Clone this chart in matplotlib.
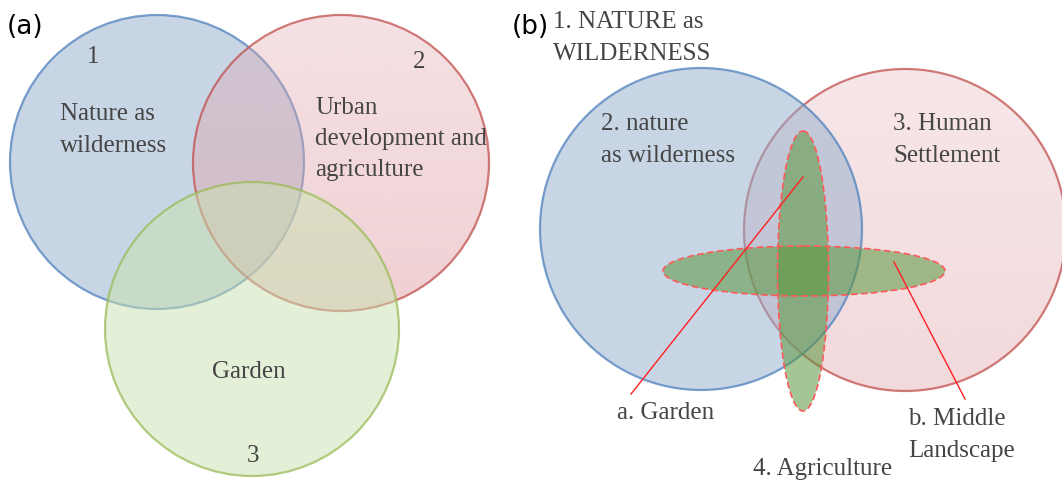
import numpy as np
import matplotlib.pyplot as plt
from matplotlib.patches import Circle, Ellipse
from matplotlib.colors import to_rgb

# Panel (a): three overlapping circles (pixel coordinates)
a_names = ["Nature as\nwilderness", "Urban\ndevelopment and\nagriculture", "Garden"]
a_nums = ["1", "2", "3"]
a_cx = [157, 341, 252]
a_cy = [163, 164, 330]
a_r = [147, 148, 147]

# Panel (b): two circles + two ellipses
b_names = ["2. nature\nas wilderness", "3. Human\nSettlement"]
b_cx = [701, 905]
b_cy = [230, 231]
b_r = [161, 161]

ell_names = ["a. Garden", "b. Middle\nLandscape"]
ell_cx = [803, 804]
ell_cy = [272, 272]
ell_w = [51, 282]
ell_h = [280, 50]

fig = plt.figure(figsize=(10.62, 4.81), dpi=100)
ax = fig.add_axes([0, 0, 1, 1])
ax.set_xlim(0, 1062)
ax.set_ylim(481, 0)
ax.axis("off")

serif = dict(family="Liberation Serif", color="#454545", fontsize=18)


def circle(cx, cy, r, face, edge, alpha, z, alpha_bottom=None):
    # filled circle, optional vertical gradient in alpha
    if alpha_bottom is None:
        ax.add_patch(Circle((cx, cy), r, facecolor=face, alpha=alpha,
                            edgecolor="none", zorder=z))
    else:
        clip = Circle((cx, cy), r, facecolor="none", edgecolor="none")
        ax.add_patch(clip)
        rgba = np.zeros((100, 2, 4))
        rgba[..., :3] = to_rgb(face)
        rgba[..., 3] = np.linspace(alpha, alpha_bottom, 100)[:, None]
        im = ax.imshow(rgba, extent=(cx - r, cx + r, cy + r, cy - r),
                       interpolation="bilinear", zorder=z, aspect="auto")
        im.set_clip_path(clip)
    ax.add_patch(Circle((cx, cy), r, facecolor="none", edgecolor=edge,
                        lw=1.6, alpha=0.75, zorder=z))


# (a) circles
circle(a_cx[0], a_cy[0], a_r[0], "#91adcd", "#4f81bd", 0.5, 1)
circle(a_cx[1], a_cy[1], a_r[1], "#e1a5ab", "#c0504d", 0.33, 2, 0.52)
circle(a_cx[2], a_cy[2], a_r[2], "#c9e1af", "#9bbb59", 0.5, 3)

# (b) circles: red below, blue on top
circle(b_cx[1], b_cy[1], b_r[1], "#e1a5ab", "#c0504d", 0.27, 1, 0.42)
circle(b_cx[0], b_cy[0], b_r[0], "#91adcd", "#4f81bd", 0.5, 2)

for i in range(2):
    ax.add_patch(Ellipse((ell_cx[i], ell_cy[i]), ell_w[i], ell_h[i],
                         facecolor="#5a963c", alpha=0.55, edgecolor="none", zorder=5))
    ax.add_patch(Ellipse((ell_cx[i], ell_cy[i]), ell_w[i], ell_h[i],
                         facecolor="none", edgecolor="#ff5a5a", lw=1.2,
                         ls=(0, (4, 2)), zorder=6))

# leader lines
ax.plot([803, 631], [178, 395], color="#ff2020", lw=1.0, zorder=7)
ax.plot([894, 965], [263, 400], color="#ff2020", lw=1.0, zorder=7)

# panel letters
ax.text(7, 27, "(a)", family="DejaVu Sans", fontsize=19, va="center", ha="left", zorder=10)
ax.text(512, 27, "(b)", family="DejaVu Sans", fontsize=19, va="center", ha="left", zorder=10)

# (a) labels
ax.text(93, 57, a_nums[0], ha="center", va="center", zorder=10, **serif)
ax.text(419, 62, a_nums[1], ha="center", va="center", zorder=10, **serif)
ax.text(253, 456, a_nums[2], ha="center", va="center", zorder=10, **serif)
ax.text(60, 130, a_names[0], ha="left", va="center",
        linespacing=1.55, zorder=10, **serif)
ax.text(315, 139, a_names[1], ha="left", va="center",
        linespacing=1.55, zorder=10, **serif)
ax.text(249, 372, a_names[2], ha="center", va="center", zorder=10, **serif)

# (b) labels
ax.text(553, 38, "1. NATURE as\nWILDERNESS", ha="left", va="center",
        linespacing=1.55, zorder=10, **serif)
ax.text(601, 140, b_names[0], ha="left", va="center",
        linespacing=1.55, zorder=10, **serif)
ax.text(893, 140, b_names[1], ha="left", va="center",
        linespacing=1.55, zorder=10, **serif)
ax.text(617, 413, ell_names[0], ha="left", va="center", zorder=10, **serif)
ax.text(908, 435, ell_names[1], ha="left", va="center",
        linespacing=1.55, zorder=10, **serif)
ax.text(753, 469, "4. Agriculture", ha="left", va="center", zorder=10, **serif)

fig.savefig("out.png", dpi=100)
